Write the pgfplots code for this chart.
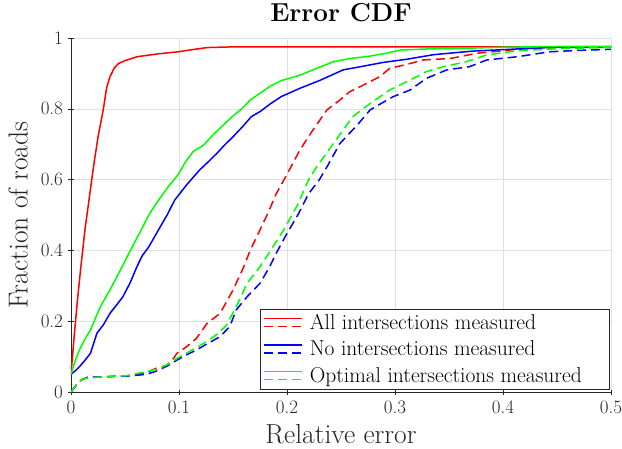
\documentclass[border=0pt]{standalone}
\usepackage{fontspec}
\usepackage{pgfplots}
\pgfplotsset{compat=1.18}

\definecolor{axgray}{rgb}{0.15,0.15,0.15}
\definecolor{cred}{rgb}{1,0,0}
\definecolor{cblue}{rgb}{0,0,1}
\definecolor{cgreen}{rgb}{0,1,0}

\pgfplotsset{
  dashcdf/.style={dash pattern=on 9pt off 5pt},
  pairlegend/.style={legend image code/.code={
    \draw[draw=#1, line width=1.5pt, solid] (0pt,4pt) -- (38pt,4pt);
    \draw[draw=#1, line width=1.5pt, dash pattern=on 9pt off 5pt] (0pt,-4pt) -- (38pt,-4pt);
    \path (43pt,0pt);}},
}

% CDF curves
\pgfplotstableread{
x y
0 0.05
0.003 0.16
0.006 0.26
0.009 0.35
0.013 0.46
0.017 0.55
0.021 0.64
0.025 0.72
0.030 0.80
0.033 0.86
0.036 0.89
0.040 0.915
0.044 0.928
0.050 0.936
0.061 0.947
0.080 0.955
0.099 0.961
0.110 0.966
0.126 0.973
0.150 0.975
0.500 0.975
}\allsolid

\pgfplotstableread{
x y
0 0
0.005 0.02
0.010 0.035
0.015 0.041
0.030 0.043
0.052 0.046
0.070 0.055
0.079 0.067
0.089 0.076
0.095 0.095
0.098 0.109
0.107 0.128
0.116 0.151
0.126 0.194
0.138 0.222
0.150 0.288
0.160 0.354
0.166 0.401
0.175 0.458
0.183 0.51
0.190 0.56
0.200 0.615
0.212 0.684
0.224 0.74
0.237 0.797
0.249 0.825
0.258 0.848
0.274 0.872
0.286 0.891
0.295 0.914
0.314 0.928
0.326 0.938
0.351 0.942
0.376 0.957
0.413 0.968
0.450 0.973
0.500 0.975
}\alldash

\pgfplotstableread{
x y
0 0.05
0.004 0.06
0.008 0.072
0.013 0.09
0.018 0.109
0.024 0.166
0.030 0.19
0.036 0.222
0.042 0.245
0.048 0.269
0.055 0.31
0.061 0.354
0.066 0.385
0.072 0.41
0.081 0.458
0.089 0.50
0.096 0.542
0.107 0.585
0.119 0.627
0.127 0.65
0.135 0.674
0.142 0.697
0.150 0.721
0.159 0.75
0.167 0.778
0.175 0.792
0.185 0.815
0.195 0.835
0.212 0.858
0.231 0.881
0.252 0.91
0.270 0.92
0.289 0.931
0.311 0.94
0.336 0.953
0.372 0.963
0.413 0.969
0.450 0.974
0.500 0.975
}\nosolid

\pgfplotstableread{
x y
0 0
0.005 0.02
0.010 0.035
0.015 0.041
0.030 0.043
0.052 0.045
0.070 0.05
0.080 0.06
0.090 0.075
0.098 0.09
0.107 0.105
0.117 0.12
0.127 0.138
0.138 0.156
0.147 0.185
0.153 0.232
0.163 0.269
0.175 0.307
0.184 0.354
0.190 0.392
0.200 0.448
0.210 0.50
0.220 0.56
0.230 0.60
0.237 0.636
0.249 0.702
0.265 0.754
0.277 0.797
0.298 0.834
0.314 0.853
0.329 0.886
0.348 0.91
0.369 0.919
0.385 0.938
0.413 0.947
0.443 0.961
0.470 0.965
0.500 0.968
}\nodash

\pgfplotstableread{
x y
0 0.05
0.004 0.09
0.008 0.12
0.013 0.15
0.018 0.175
0.027 0.24
0.036 0.288
0.045 0.34
0.055 0.40
0.065 0.458
0.072 0.50
0.079 0.533
0.090 0.58
0.099 0.613
0.106 0.65
0.113 0.679
0.123 0.698
0.131 0.725
0.141 0.754
0.150 0.78
0.158 0.80
0.166 0.825
0.175 0.844
0.185 0.865
0.195 0.88
0.212 0.895
0.228 0.915
0.243 0.933
0.258 0.942
0.275 0.948
0.292 0.957
0.305 0.966
0.330 0.969
0.366 0.971
0.400 0.974
0.450 0.976
0.500 0.976
}\optsolid

\pgfplotstableread{
x y
0 0
0.005 0.02
0.010 0.035
0.013 0.039
0.030 0.043
0.052 0.046
0.079 0.064
0.092 0.081
0.098 0.095
0.107 0.11
0.117 0.127
0.127 0.145
0.136 0.165
0.144 0.189
0.153 0.241
0.163 0.307
0.175 0.354
0.187 0.41
0.197 0.458
0.210 0.53
0.220 0.60
0.2275 0.636
0.243 0.702
0.261 0.778
0.277 0.815
0.295 0.853
0.314 0.881
0.329 0.905
0.345 0.919
0.366 0.933
0.385 0.952
0.413 0.964
0.459 0.971
0.500 0.973
}\optdash

\begin{document}
\begin{tikzpicture}
\begin{axis}[
    width=540pt, height=354pt,
    scale only axis,
    xmin=0, xmax=0.5,
    ymin=0, ymax=1,
    xtick={0,0.1,0.2,0.3,0.4,0.5},
    ytick={0,0.2,0.4,0.6,0.8,1},
    axis lines=left,
    axis line style={-, axgray, line width=0.6pt},
    tick style={axgray, line width=0.6pt},
    major tick length=5pt,
    xmajorgrids, ymajorgrids,
    grid style={black!12, line width=0.5pt},
    /pgf/number format/assume math mode=true,
    tick label style={font=\fontsize{19}{23}\selectfont, text=axgray},
    xticklabel style={yshift=-3pt},
    yticklabel style={xshift=-2pt},
    title={Error CDF},
    title style={font=\fontsize{26}{30}\selectfont\bfseries,
      at={(axis description cs:0.5,1)}, anchor=south, inner sep=0pt, yshift=10pt},
    xlabel={Relative error},
    ylabel={Fraction of roads},
    xlabel style={font=\fontsize{27.5}{32}\selectfont, text=axgray,
      at={(axis description cs:0.5,0)}, anchor=north, inner sep=0pt, yshift=-32pt},
    ylabel style={font=\fontsize{27.5}{32}\selectfont, text=axgray,
      at={(axis description cs:0,0.5)}, anchor=south, inner sep=0pt, yshift=43pt},
    legend style={at={(1,0)}, anchor=south east, xshift=-2pt, yshift=3pt,
      font=\fontsize{21.5}{25}\selectfont, draw=axgray,
      fill=white, inner xsep=3pt, inner ysep=3pt, row sep=6pt},
    legend cell align=left,
]
\addplot[cred, line width=1.5pt, pairlegend=cred] table {\allsolid};
\addlegendentry{All intersections measured\rule{22pt}{0pt}}
\addplot[cred, line width=1.5pt, dashcdf, forget plot] table {\alldash};
\addplot[cblue, line width=1.5pt, pairlegend=cblue] table {\nosolid};
\addlegendentry{No intersections measured\rule{22pt}{0pt}}
\addplot[cblue, line width=1.5pt, dashcdf, forget plot] table {\nodash};
\addplot[cgreen, line width=1.5pt, pairlegend=cgreen] table {\optsolid};
\addlegendentry{Optimal intersections measured\rule{22pt}{0pt}}
\addplot[cgreen, line width=1.5pt, dashcdf, forget plot] table {\optdash};
\end{axis}
\pgfresetboundingbox
\path[use as bounding box] ([xshift=-71pt,yshift=-56pt]current axis.south west)
  rectangle ([xshift=11pt,yshift=38pt]current axis.north east);
\end{tikzpicture}
\end{document}
